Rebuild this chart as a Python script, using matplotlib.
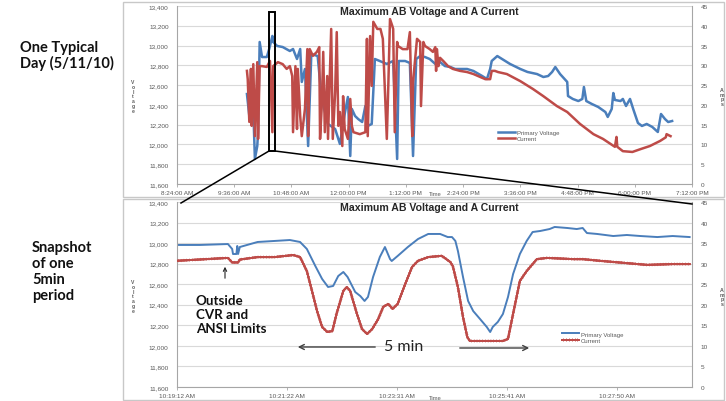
import matplotlib
matplotlib.use("Agg")
import matplotlib.pyplot as plt
import matplotlib.patheffects as pe
from matplotlib.patches import Rectangle, FancyArrowPatch
from matplotlib.lines import Line2D
from matplotlib.ticker import FixedLocator, FuncFormatter

# ---------------- data: one full day (5/11/10) ----------------
day_voltage_time = [
    "9:52", "9:55", "9:58", "10:00", "10:02", "10:05", "10:06", "10:08", "10:11", "10:17",
    "10:20", "10:24", "10:25", "10:30", "10:37", "10:46", "10:50", "10:55", "10:59", "11:01",
    "11:05", "11:09", "11:13", "11:21", "11:26", "11:34", "11:43", "11:49", "11:55", "11:59",
    "12:02", "12:04", "12:08", "12:12", "12:17", "12:21", "12:24", "12:29", "12:33", "12:39",
    "12:48", "12:56", "13:01", "13:03", "13:11", "13:17", "13:21", "13:25", "13:30", "13:36",
    "13:42", "13:49", "13:55", "14:01", "14:08", "14:14", "14:20", "14:29", "14:37", "14:48",
    "14:54", "14:58", "15:00", "15:07", "15:13", "15:23", "15:36", "15:45", "15:57", "16:05",
    "16:11", "16:16", "16:20", "16:26", "16:35", "16:36", "16:42", "16:49", "16:54", "16:56",
    "16:59", "17:06", "17:14", "17:23", "17:26", "17:31", "17:33", "17:35", "17:42", "17:45",
    "17:49", "17:54", "17:58", "18:04", "18:09", "18:15", "18:22", "18:29", "18:33", "18:38",
    "18:42", "18:47",
]
day_voltage = [
    12510, 12288, 12490, 12359, 11853, 11984, 12126, 13036, 12884, 12884,
    12965, 13097, 13036, 12996, 12985, 12945, 12965, 12864, 12965, 12632,
    12763, 11984, 12915, 12894, 12460, 12207, 12156, 12005, 12308, 12480,
    11883, 12359, 12288, 12257, 12227, 12389, 12187, 12207, 12864, 12844,
    12814, 12844, 11853, 12844, 12844, 12824, 11883, 12864, 12894, 12884,
    12864, 12814, 12834, 12793, 12783, 12763, 12763, 12763, 12743, 12692,
    12662, 12763, 12844, 12894, 12864, 12814, 12763, 12733, 12712, 12682,
    12692, 12733, 12783, 12712, 12632, 12490, 12460, 12439, 12460, 12581,
    12439, 12409, 12379, 12328, 12278, 12359, 12520, 12450, 12439, 12460,
    12389, 12460, 12359, 12217, 12187, 12207, 12177, 12126, 12308, 12257,
    12227, 12237,
]
day_current_time = [
    "9:52", "9:53", "9:55", "9:57", "9:58", "10:00", "10:02", "10:05", "10:06", "10:08",
    "10:11", "10:17", "10:21", "10:24", "10:25", "10:31", "10:37", "10:42", "10:46", "10:49",
    "10:50", "10:53", "10:55", "10:56", "10:59", "11:01", "11:05", "11:08", "11:09", "11:11",
    "11:15", "11:20", "11:23", "11:24", "11:26", "11:28", "11:30", "11:33", "11:34", "11:38",
    "11:40", "11:43", "11:45", "11:47", "11:49", "11:52", "11:53", "11:55", "11:59", "12:02",
    "12:04", "12:06", "12:14", "12:21", "12:23", "12:24", "12:27", "12:29", "12:31", "12:36",
    "12:40", "12:43", "12:48", "12:50", "12:52", "12:55", "12:56", "12:58", "13:01", "13:02",
    "13:08", "13:14", "13:17", "13:20", "13:21", "13:26", "13:30", "13:31", "13:34", "13:36",
    "13:42", "13:46", "13:49", "13:50", "13:51", "13:53", "13:55", "13:59", "14:05", "14:11",
    "14:20", "14:29", "14:37", "14:45", "14:52", "14:58", "15:00", "15:04", "15:08", "15:19",
    "15:36", "15:52", "16:05", "16:22", "16:35", "16:51", "17:08", "17:20", "17:35", "17:37",
    "17:38", "17:45", "17:57", "18:07", "18:19", "18:32", "18:39", "18:40", "18:45",
]
day_current = [
    28.6, 26.5, 15.7, 29.1, 14.7, 30.3, 12.1, 30.8, 11.4, 29.8,
    29.8, 29.6, 31.1, 13.1, 29.8, 30.8, 30.3, 29.1, 29.8, 27.3,
    13.1, 29.8, 13.9, 29.1, 17.2, 12.1, 19.0, 34.1, 12.1, 34.1,
    32.4, 33.4, 34.6, 11.4, 19.0, 33.4, 13.1, 27.3, 11.4, 39.2,
    11.4, 23.3, 38.4, 14.7, 18.2, 9.6, 22.2, 13.9, 11.4, 21.5,
    14.7, 13.1, 12.6, 13.1, 36.7, 12.1, 37.4, 24.8, 41.0, 39.2,
    39.2, 36.7, 11.4, 25.8, 41.7, 39.9, 39.2, 13.1, 35.9, 34.9,
    34.1, 34.1, 38.4, 12.1, 25.8, 36.7, 35.9, 19.7, 35.9, 34.9,
    34.1, 33.4, 34.6, 28.6, 34.1, 29.8, 31.9, 31.1, 29.8, 29.1,
    28.6, 28.3, 27.8, 27.1, 26.5, 26.5, 28.6, 28.6, 28.3, 27.8,
    26.0, 24.0, 22.2, 19.7, 18.2, 15.2, 12.6, 11.4, 9.4, 11.9,
    9.4, 8.3, 8.1, 8.8, 9.6, 10.9, 11.8, 12.6, 12.1,
]

# ---------------- data: five-minute snapshot ----------------
snap_voltage_time = [
    "10:19:12", "10:19:39", "10:20:12", "10:20:17", "10:20:18", "10:20:22", "10:20:23", "10:20:24",
    "10:20:26", "10:20:47", "10:21:07", "10:21:25", "10:21:37", "10:21:45", "10:21:55", "10:22:03",
    "10:22:10", "10:22:16", "10:22:22", "10:22:28", "10:22:33", "10:22:42", "10:22:48", "10:22:53",
    "10:22:57", "10:23:03", "10:23:11", "10:23:17", "10:23:23", "10:23:25", "10:23:32", "10:23:44",
    "10:23:56", "10:24:08", "10:24:22", "10:24:31", "10:24:36", "10:24:40", "10:24:43", "10:24:49",
    "10:24:55", "10:25:01", "10:25:09", "10:25:17", "10:25:21", "10:25:24", "10:25:30", "10:25:36",
    "10:25:42", "10:25:48", "10:25:56", "10:26:04", "10:26:11", "10:26:20", "10:26:31", "10:26:37",
    "10:26:52", "10:27:03", "10:27:10", "10:27:15", "10:27:27", "10:27:46", "10:28:02", "10:28:18",
    "10:28:38", "10:28:56", "10:29:16",
]
snap_voltage = [
    12982, 12982, 12991, 12943, 12894, 12894, 12972, 12894,
    12962, 13011, 13021, 13030, 13011, 12943, 12777, 12651,
    12573, 12583, 12680, 12719, 12670, 12524, 12485, 12437,
    12476, 12670, 12865, 12962, 12845, 12826, 12875, 12962,
    13040, 13089, 13089, 13059, 13059, 13021, 12923, 12670,
    12437, 12339, 12262, 12184, 12135, 12184, 12233, 12310,
    12476, 12699, 12894, 13021, 13108, 13118, 13137, 13157,
    13147, 13137, 13147, 13098, 13089, 13069, 13079, 13069,
    13059, 13069, 13059,
]
snap_current_time = [
    "10:19:12", "10:20:12", "10:20:17", "10:20:24", "10:20:26", "10:20:47", "10:21:07", "10:21:29",
    "10:21:37", "10:21:45", "10:21:51", "10:21:57", "10:22:03", "10:22:09", "10:22:15", "10:22:20",
    "10:22:28", "10:22:32", "10:22:36", "10:22:44", "10:22:50", "10:22:56", "10:23:02", "10:23:09",
    "10:23:15", "10:23:21", "10:23:26", "10:23:32", "10:23:41", "10:23:49", "10:23:56", "10:24:08",
    "10:24:24", "10:24:34", "10:24:37", "10:24:43", "10:24:49", "10:24:54", "10:24:57", "10:25:09",
    "10:25:21", "10:25:36", "10:25:42", "10:25:48", "10:25:56", "10:26:04", "10:26:16", "10:26:28",
    "10:26:59", "10:27:10", "10:27:30", "10:27:58", "10:28:26", "10:28:56", "10:29:16",
]
snap_current = [
    30.7, 31.4, 30.3, 30.3, 31.0, 31.6, 31.6, 32.1,
    31.6, 28.2, 23.4, 18.5, 14.6, 13.4, 13.6, 17.8,
    23.4, 24.3, 23.4, 17.8, 14.1, 12.9, 14.1, 16.5,
    19.5, 20.2, 19.0, 20.2, 25.1, 29.2, 30.7, 31.6,
    31.9, 30.4, 29.4, 24.3, 17.0, 12.2, 11.2, 11.2,
    11.2, 11.2, 11.7, 17.8, 25.8, 28.2, 31.1, 31.4,
    31.1, 31.1, 30.7, 30.2, 29.7, 29.9, 29.9,
]

series_labels = ["Primary Voltage", "Current"]
chart_title = "Maximum AB Voltage and A Current"
volt_ticks = [11600, 11800, 12000, 12200, 12400, 12600, 12800, 13000, 13200, 13400]
amp_ticks = [0, 5, 10, 15, 20, 25, 30, 35, 40, 45]

BLUE = "#4a7ebb"
RED = "#be4b48"
TICK_GREY = "#595959"
AXIS_GREY = "#a6a6a6"
GRID_GREY = "#d9d9d9"


def hours(hm):
    h, m = hm.split(":")
    return int(h) + int(m) / 60.0


def seconds(hms):
    h, m, s = hms.split(":")
    return int(h) * 3600 + int(m) * 60 + int(s)


def clock_label(total_seconds):
    total_seconds = int(round(total_seconds))
    h, rem = divmod(total_seconds, 3600)
    m, s = divmod(rem, 60)
    suffix = "AM" if h < 12 else "PM"
    h12 = h % 12
    if h12 == 0:
        h12 = 12
    return f"{h12}:{m:02d}:{s:02d} {suffix}"


W, H = 726, 402
fig = plt.figure(figsize=(W / 100, H / 100), dpi=100)
fig.patch.set_facecolor("white")


def fx(px):
    return px / W


def fy(py):
    return 1 - py / H


def style_pair(ax, ax2):
    ax.set_ylim(volt_ticks[0], volt_ticks[-1])
    ax.yaxis.set_major_locator(FixedLocator(volt_ticks))
    ax.yaxis.set_major_formatter(FuncFormatter(lambda v, p: f"{int(v):,}"))
    ax2.set_ylim(amp_ticks[0], amp_ticks[-1])
    ax2.yaxis.set_major_locator(FixedLocator(amp_ticks))
    ax.yaxis.grid(True, color=GRID_GREY, lw=0.8)
    ax.set_axisbelow(True)
    for a in (ax, ax2):
        a.set_facecolor("none")
        a.spines["top"].set_visible(False)
    ax.spines["right"].set_visible(False)
    ax.spines["left"].set_color(AXIS_GREY)
    ax.spines["bottom"].set_color(AXIS_GREY)
    ax2.spines["left"].set_visible(False)
    ax2.spines["bottom"].set_visible(False)
    ax2.spines["right"].set_color(AXIS_GREY)
    ax.tick_params(axis="y", length=0, pad=6, labelsize=4.6, labelcolor=TICK_GREY)
    ax2.tick_params(axis="y", length=0, pad=6, labelsize=4.6, labelcolor=TICK_GREY)
    ax.tick_params(axis="x", length=2.5, width=0.6, color=AXIS_GREY, pad=1.5,
                   labelsize=4.6, labelcolor=TICK_GREY)
    for lab in ax.get_xticklabels() + ax.get_yticklabels() + ax2.get_yticklabels():
        lab.set_fontfamily("Liberation Sans")


# ---------------- top: whole day ----------------
ax_day = fig.add_axes([fx(177), fy(185), fx(692) - fx(177), fy(7) - fy(185)])
ax_day2 = ax_day.twinx()
day_ticks = [8.4 + 1.2 * k for k in range(10)]
ax_day.set_xlim(day_ticks[0], day_ticks[-1])
ax_day.xaxis.set_major_locator(FixedLocator(day_ticks))
ax_day.xaxis.set_major_formatter(FuncFormatter(lambda v, p: clock_label(v * 3600)))
ax_day.plot([hours(t) for t in day_voltage_time], day_voltage, color=BLUE, lw=1.8,
            solid_joinstyle="round")
ax_day2.plot([hours(t) for t in day_current_time], day_current, color=RED, lw=1.8,
             solid_joinstyle="round")
style_pair(ax_day, ax_day2)

# ---------------- bottom: five-minute window ----------------
ax_snap = fig.add_axes([fx(177), fy(388), fx(692) - fx(177), fy(203) - fy(388)])
ax_snap2 = ax_snap.twinx()
snap_start = seconds("10:19:12")
snap_ticks = [snap_start + 129.6 * k for k in range(5)]
ax_snap.set_xlim(snap_start, snap_start + 606.8)
ax_snap.xaxis.set_major_locator(FixedLocator(snap_ticks))
ax_snap.xaxis.set_major_formatter(FuncFormatter(lambda v, p: clock_label(v)))
ax_snap.plot([seconds(t) for t in snap_voltage_time], snap_voltage, color=BLUE, lw=1.4,
             solid_joinstyle="round")
ticks_fx = [
    pe.withTickedStroke(angle=90, spacing=2.0, length=0.45, linewidth=0.4),
    pe.withTickedStroke(angle=-90, spacing=2.0, length=0.45, linewidth=0.4),
    pe.Normal(),
]
ax_snap2.plot([seconds(t) for t in snap_current_time], snap_current, color=RED, lw=1.4,
              solid_joinstyle="round", path_effects=ticks_fx)
style_pair(ax_snap, ax_snap2)

# titles, axis names and legends
for top in (12, 208):
    fig.text(fx(429), fy(top), chart_title, ha="center", va="center",
             fontsize=7.6, fontweight="bold", family="Liberation Sans", color="#262626")
for yt, yv, ya in ((195, 97, 97.5), (399, 297, 297.5)):
    fig.text(fx(435), fy(yt), "Time", ha="center", va="center", fontsize=4.2,
             family="Liberation Sans", color=TICK_GREY)
    fig.text(fx(133), fy(yv), "\n".join("Voltage"), ha="center", va="center",
             fontsize=3.6, linespacing=0.95, fontweight="bold",
             family="Liberation Sans", color=TICK_GREY)
    fig.text(fx(722), fy(ya), "\n".join("Amps"), ha="center", va="center",
             fontsize=3.8, linespacing=0.95, fontweight="bold",
             family="Liberation Sans", color=TICK_GREY)

for axv, axa, lx, ly in ((ax_day, ax_day2, 498, 136.5), (ax_snap, ax_snap2, 562, 338)):
    handles = [axv.get_lines()[0], axa.get_lines()[0]]
    leg = fig.legend(handles, series_labels, loc="center left",
                     bbox_to_anchor=(fx(lx), fy(ly)), bbox_transform=fig.transFigure,
                     frameon=False, fontsize=4.3, handlelength=2.8, handletextpad=0.3,
                     labelspacing=0.15, borderpad=0, borderaxespad=0)
    for txt in leg.get_texts():
        txt.set_color(TICK_GREY)
        txt.set_fontfamily("Liberation Sans")

# side captions
fig.text(fx(20), fy(56), "One Typical\nDay (5/11/10)", ha="left", va="center",
         fontsize=10.5, fontweight="bold", family="Lato", linespacing=1.15, color="#111111")
fig.text(fx(32), fy(272), "Snapshot\nof one\n5min\nperiod", ha="left", va="center",
         fontsize=10.5, fontweight="bold", family="Lato", linespacing=1.2, color="#111111")

# annotations on the snapshot
fig.text(fx(196), fy(315.5), "Outside\nCVR and\nANSI Limits", ha="left", va="center",
         fontsize=9.6, fontweight="bold", family="Lato", linespacing=1.2, color="#111111")
fig.add_artist(FancyArrowPatch((fx(225), fy(282)), (fx(225), fy(265)),
                               transform=fig.transFigure, arrowstyle="->",
                               mutation_scale=6, color="#222222", lw=0.8))
fig.text(fx(384), fy(347), "5 min", ha="left", va="center", fontsize=11.5,
         family="Lato", color="#222222")
fig.add_artist(FancyArrowPatch((fx(378), fy(348)), (fx(295), fy(348)),
                               transform=fig.transFigure, arrowstyle="->",
                               mutation_scale=9, color="#404040", lw=1.0))
fig.add_artist(FancyArrowPatch((fx(457), fy(349)), (fx(532), fy(349)),
                               transform=fig.transFigure, arrowstyle="->",
                               mutation_scale=9, color="#404040", lw=1.0))

# panel frames
for y0, y1 in ((3, 198), (200, 401)):
    fig.add_artist(Rectangle((fx(123), fy(y1)), fx(724) - fx(123), fy(y0) - fy(y1),
                             transform=fig.transFigure, fill=False,
                             edgecolor="#c8c8c8", lw=1.0, zorder=-1))

# zoom box on the day chart and its connector lines
fig.add_artist(Rectangle((fx(269), fy(152)), fx(275) - fx(269), fy(13) - fy(152),
                         transform=fig.transFigure, fill=False, edgecolor="black",
                         lw=1.4, zorder=10))
fig.add_artist(Line2D([fx(269), fx(181)], [fy(152), fy(204)], transform=fig.transFigure,
                      color="black", lw=1.1, zorder=10))
fig.add_artist(Line2D([fx(275), fx(692)], [fy(152), fy(205)], transform=fig.transFigure,
                      color="black", lw=1.1, zorder=10))

fig.savefig("out.png", dpi=100)
